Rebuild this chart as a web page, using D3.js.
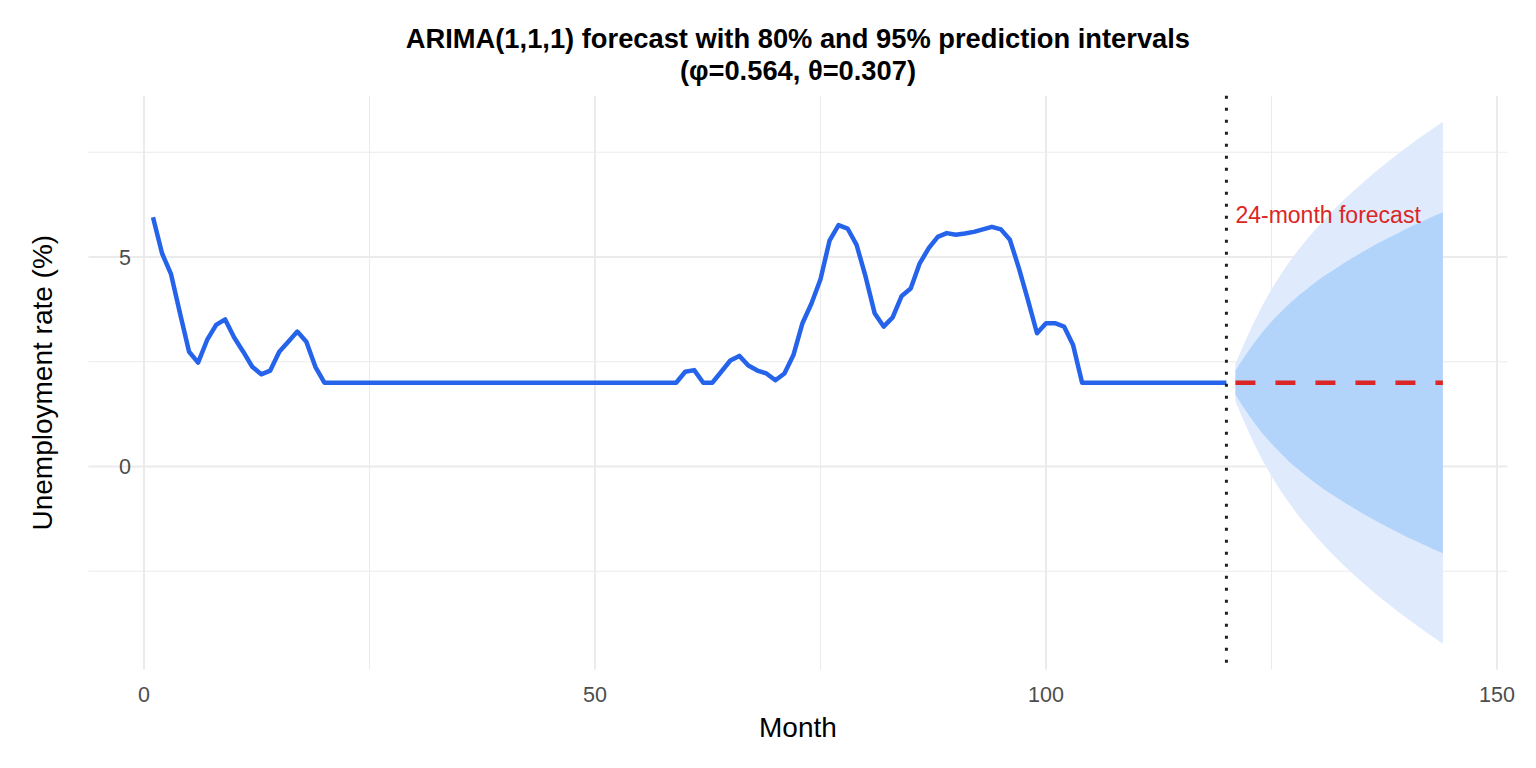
<!DOCTYPE html>
<html>
<head>
<meta charset="utf-8">
<script src="https://cdn.jsdelivr.net/npm/d3@7"></script>
<style>
  body { margin: 0; background: #fff; }
  text { font-family: "Liberation Sans", Arial, sans-serif; }
</style>
</head>
<body>
<div id="chart"></div>
<script>
const observed = [
  5.95, 5.09, 4.59, 3.65, 2.74, 2.48, 3.02, 3.38, 3.51, 3.08,
  2.74, 2.38, 2.20, 2.29, 2.74, 2.98, 3.22, 2.98, 2.38, 2.00,
  2.00, 2.00, 2.00, 2.00, 2.00, 2.00, 2.00, 2.00, 2.00, 2.00,
  2.00, 2.00, 2.00, 2.00, 2.00, 2.00, 2.00, 2.00, 2.00, 2.00,
  2.00, 2.00, 2.00, 2.00, 2.00, 2.00, 2.00, 2.00, 2.00, 2.00,
  2.00, 2.00, 2.00, 2.00, 2.00, 2.00, 2.00, 2.00, 2.00, 2.26,
  2.30, 2.00, 2.00, 2.26, 2.53, 2.64, 2.41, 2.29, 2.22, 2.06,
  2.22, 2.66, 3.42, 3.89, 4.47, 5.39, 5.76, 5.68, 5.29, 4.53,
  3.66, 3.34, 3.56, 4.07, 4.25, 4.85, 5.21, 5.48, 5.57, 5.53,
  5.56, 5.60, 5.66, 5.72, 5.66, 5.41, 4.73, 3.97, 3.18, 3.42,
  3.42, 3.34, 2.90, 2.00, 2.00, 2.00, 2.00, 2.00, 2.00, 2.00,
  2.00, 2.00, 2.00, 2.00, 2.00, 2.00, 2.00, 2.00, 2.00, 2.00
];

// forecast months 121..144
const fcMean = [2,2,2,2,2,2,2,2,2,2,2,2,2,2,2,2,2,2,2,2,2,2,2,2];
const upper95 = [2.45,2.95,3.42,3.85,4.23,4.57,4.89,5.18,5.44,5.69,5.93,6.15,6.36,6.56,6.75,6.94,7.12,7.29,7.46,7.62,7.78,7.93,8.08,8.23];
const lower95 = [1.55,1.05,0.58,0.15,-0.23,-0.57,-0.89,-1.18,-1.44,-1.69,-1.93,-2.15,-2.36,-2.56,-2.75,-2.94,-3.12,-3.29,-3.46,-3.62,-3.78,-3.93,-4.08,-4.23];
const upper80 = [2.29,2.62,2.93,3.21,3.46,3.68,3.89,4.08,4.25,4.42,4.57,4.71,4.85,4.98,5.11,5.23,5.35,5.46,5.57,5.68,5.78,5.88,5.98,6.07];
const lower80 = [1.71,1.38,1.07,0.79,0.54,0.32,0.11,-0.08,-0.25,-0.42,-0.57,-0.71,-0.85,-0.98,-1.11,-1.23,-1.35,-1.46,-1.57,-1.68,-1.78,-1.88,-1.98,-2.07];

const xTicks = [0, 50, 100, 150];
const xMinor = [25, 75, 125];
const yTicks = [0, 5];
const yMinor = [-2.5, 2.5, 7.5];
const forecastStart = 120;

const width = 1536, height = 768;
const panel = {left: 88.5, right: 1507.4, top: 95.7, bottom: 669.7};

const obsData = observed.map((v, i) => ({m: i + 1, v}));
const fcData = fcMean.map((v, i) => ({
  m: forecastStart + 1 + i, v,
  lo95: lower95[i], hi95: upper95[i], lo80: lower80[i], hi80: upper80[i]
}));

const x = d3.scaleLinear().domain([-6.15, 151.15]).range([panel.left, panel.right]);
const y = d3.scaleLinear().domain([-4.85, 8.85]).range([panel.bottom, panel.top]);

const svg = d3.select("#chart").append("svg")
  .attr("width", width).attr("height", height);

svg.append("rect").attr("width", width).attr("height", height).attr("fill", "#fff");

// grid
const grid = svg.append("g");
grid.selectAll(".ymin").data(yMinor).enter().append("line")
  .attr("x1", panel.left).attr("x2", panel.right)
  .attr("y1", d => y(d)).attr("y2", d => y(d))
  .attr("stroke", "#ebebeb").attr("stroke-width", 1);
grid.selectAll(".xmin").data(xMinor).enter().append("line")
  .attr("y1", panel.top).attr("y2", panel.bottom)
  .attr("x1", d => x(d)).attr("x2", d => x(d))
  .attr("stroke", "#ebebeb").attr("stroke-width", 1);
grid.selectAll(".ymaj").data(yTicks).enter().append("line")
  .attr("x1", panel.left).attr("x2", panel.right)
  .attr("y1", d => y(d)).attr("y2", d => y(d))
  .attr("stroke", "#ebebeb").attr("stroke-width", 2);
grid.selectAll(".xmaj").data(xTicks).enter().append("line")
  .attr("y1", panel.top).attr("y2", panel.bottom)
  .attr("x1", d => x(d)).attr("x2", d => x(d))
  .attr("stroke", "#ebebeb").attr("stroke-width", 2);

// prediction bands
svg.append("path").datum(fcData)
  .attr("fill", "#dfebfd")
  .attr("d", d3.area().x(d => x(d.m)).y0(d => y(d.lo95)).y1(d => y(d.hi95)));
svg.append("path").datum(fcData)
  .attr("fill", "#b2d4fb")
  .attr("d", d3.area().x(d => x(d.m)).y0(d => y(d.lo80)).y1(d => y(d.hi80)));

// observed series
svg.append("path").datum(obsData)
  .attr("fill", "none")
  .attr("stroke", "#2563eb")
  .attr("stroke-width", 4.5)
  .attr("stroke-linejoin", "round")
  .attr("d", d3.line().x(d => x(d.m)).y(d => y(d.v)));

// forecast mean
svg.append("path").datum(fcData)
  .attr("fill", "none")
  .attr("stroke", "#dc2626")
  .attr("stroke-width", 4.5)
  .attr("stroke-dasharray", "20,20")
  .attr("d", d3.line().x(d => x(d.m)).y(d => y(d.v)));

// forecast origin
svg.append("line")
  .attr("x1", x(forecastStart)).attr("x2", x(forecastStart))
  .attr("y1", panel.top).attr("y2", panel.bottom)
  .attr("stroke", "#222").attr("stroke-width", 3)
  .attr("stroke-dasharray", "3,9");

svg.append("text")
  .attr("x", x(forecastStart + 1)).attr("y", y(6))
  .attr("dy", "0.35em")
  .attr("fill", "#dc2626")
  .style("font-size", "23px")
  .text("24-month forecast");

// axes labels
svg.selectAll(".xlab").data(xTicks).enter().append("text")
  .attr("x", d => x(d)).attr("y", 701.5)
  .attr("text-anchor", "middle")
  .attr("fill", "#4d4d4d")
  .style("font-size", "21.5px")
  .text(d => d);

svg.selectAll(".ylab").data(yTicks).enter().append("text")
  .attr("x", 131).attr("y", d => y(d))
  .attr("dy", "0.35em")
  .attr("text-anchor", "end")
  .attr("fill", "#4d4d4d")
  .style("font-size", "21.5px")
  .text(d => d);

const cx = (panel.left + panel.right) / 2;

svg.append("text")
  .attr("x", cx).attr("y", 736.5)
  .attr("text-anchor", "middle")
  .style("font-size", "28px")
  .text("Month");

svg.append("text")
  .attr("transform", `translate(52,${(panel.top + panel.bottom) / 2}) rotate(-90)`)
  .attr("text-anchor", "middle")
  .style("font-size", "28px")
  .text("Unemployment rate (%)");

svg.append("text")
  .attr("x", cx).attr("y", 48)
  .attr("text-anchor", "middle")
  .style("font-size", "27.3px").style("font-weight", "bold")
  .text("ARIMA(1,1,1) forecast with 80% and 95% prediction intervals");

svg.append("text")
  .attr("x", cx).attr("y", 80)
  .attr("text-anchor", "middle")
  .style("font-size", "27.3px").style("font-weight", "bold")
  .text("(φ=0.564, θ=0.307)");
</script>
</body>
</html>
